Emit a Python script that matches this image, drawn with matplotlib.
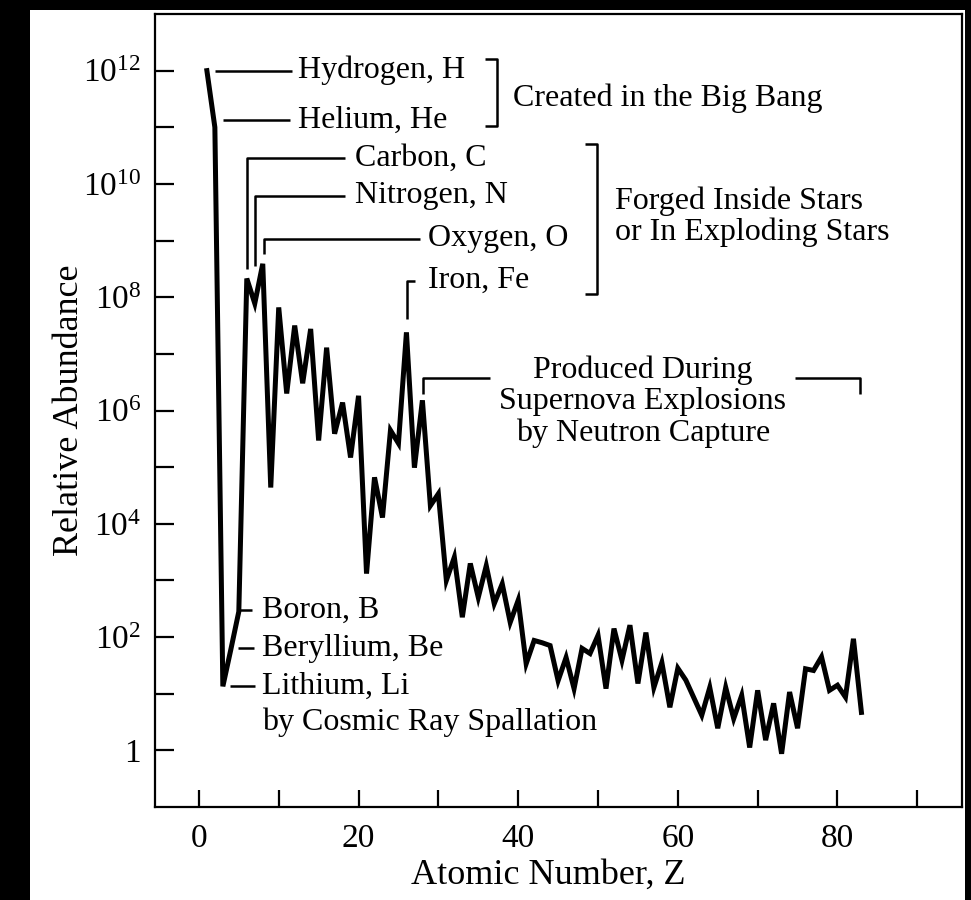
import numpy as np
import matplotlib
matplotlib.use('Agg')
import matplotlib.pyplot as plt
from matplotlib.patches import Rectangle

plt.rcParams['font.family'] = 'Liberation Serif'
plt.rcParams['mathtext.fontset'] = 'custom'
plt.rcParams['mathtext.rm'] = 'Liberation Serif'

# atomic number and log10 of relative abundance
atomic_number = list(range(1, 84))
log_abundance = [
    12.0, 11.0, 1.13, 1.78, 2.45, 8.33, 7.89, 8.59, 4.64, 7.82,
    6.30, 7.50, 6.48, 7.44, 5.47, 7.11, 5.59, 6.14, 5.17, 6.26,
    3.12, 4.82, 4.11, 5.65, 5.42, 7.38, 4.99, 6.18, 4.32, 4.53,
    3.00, 3.41, 2.35, 3.30, 2.70, 3.26, 2.59, 2.94, 2.26, 2.65,
    1.53, 1.94, 1.90, 1.85, 1.23, 1.64, 1.09, 1.80, 1.71, 2.03,
    1.09, 2.15, 1.59, 2.21, 1.18, 2.08, 1.11, 1.55, 0.76, 1.45,
    1.24, 0.93, 0.62, 1.11, 0.39, 1.11, 0.56, 0.97, 0.05, 1.06,
    0.18, 0.83, -0.06, 1.03, 0.39, 1.44, 1.41, 1.65, 1.06, 1.15,
    0.94, 1.97, 0.67,
]
abundance = [10 ** v for v in log_abundance]

x_ticks = [0, 10, 20, 30, 40, 50, 60, 70, 80, 90]
x_ticklabels = ['0', '', '20', '', '40', '', '60', '', '80', '']
y_ticks = [10 ** k for k in range(0, 13)]
y_ticklabels = ['1', '', r'$\mathregular{10^{2}}$', '', r'$\mathregular{10^{4}}$', '',
                r'$\mathregular{10^{6}}$', '', r'$\mathregular{10^{8}}$', '',
                r'$\mathregular{10^{10}}$', '', r'$\mathregular{10^{12}}$']

W, H = 971, 900
fig = plt.figure(figsize=(W / 100, H / 100), dpi=100)
fig.patch.set_facecolor('black')
# white page inside the black scan border
fig.patches.append(Rectangle((30 / W, 0), (965 - 30) / W, (H - 10) / H,
                             transform=fig.transFigure, facecolor='white',
                             edgecolor='none', zorder=-1))

ax = fig.add_axes([155 / W, 1 - 807 / H, (962 - 155) / W, (807 - 14) / H])
ax.set_facecolor('white')
ax.plot(atomic_number, abundance, color='black', lw=3.6, solid_joinstyle='miter')
ax.set_yscale('log')
ax.set_xlim(-5.5, 95.6)
ax.set_ylim(10 ** -1.0, 10 ** 13.0)

ax.set_xticks(x_ticks)
ax.set_xticklabels(x_ticklabels, fontsize=24)
ax.set_yticks(y_ticks)
ax.set_yticklabels(y_ticklabels, fontsize=24)
ax.yaxis.set_minor_locator(matplotlib.ticker.NullLocator())
ax.tick_params(axis='x', direction='in', length=12, width=1.6, pad=12)
ax.tick_params(axis='y', direction='in', length=14, width=1.6, pad=10)
for s in ax.spines.values():
    s.set_linewidth(1.6)

ax.set_xlabel('Atomic Number, Z', fontsize=26, labelpad=1)
ax.xaxis.set_label_coords(0.487, -0.065)
ax.set_ylabel('Relative Abundance', fontsize=26, labelpad=-2)


def L(v):
    return 10 ** v


lk = dict(color='black', lw=1.8, solid_capstyle='butt')
fs = 23

# Big Bang
ax.plot([2.0, 11.65], [L(12.0), L(12.0)], **lk)
ax.text(12.4, L(12.0), 'Hydrogen, H', fontsize=fs, va='center')
ax.plot([3.0, 11.4], [L(11.12), L(11.12)], **lk)
ax.text(12.4, L(11.12), 'Helium, He', fontsize=fs, va='center')
ax.plot([35.8, 37.3, 37.3, 35.8], [L(12.21), L(12.21), L(11.03), L(11.03)], **lk)
ax.text(39.3, L(11.52), 'Created in the Big Bang', fontsize=fs, va='center')

# stars
ax.plot([6.0, 6.0, 18.3], [L(8.5), L(10.45), L(10.45)], **lk)
ax.text(19.5, L(10.45), 'Carbon, C', fontsize=fs, va='center')
ax.plot([7.0, 7.0, 18.3], [L(8.55), L(9.79), L(9.79)], **lk)
ax.text(19.5, L(9.79), 'Nitrogen, N', fontsize=fs, va='center')
ax.plot([8.15, 8.15, 27.7], [L(8.77), L(9.03), L(9.03)], **lk)
ax.text(28.7, L(9.03), 'Oxygen, O', fontsize=fs, va='center')
ax.plot([26.07, 26.07, 27.07], [L(7.62), L(8.29), L(8.29)], **lk)
ax.text(28.7, L(8.29), 'Iron, Fe', fontsize=fs, va='center')
ax.plot([48.4, 49.9, 49.9, 48.4], [L(10.71), L(10.71), L(8.06), L(8.06)], **lk)
ax.text(52.1, L(9.42), 'Forged Inside Stars\nor In Exploding Stars', fontsize=fs,
        va='center', linespacing=1.05)

# supernova
ax.plot([28.07, 28.07, 36.5], [L(6.30), L(6.58), L(6.58)], **lk)
ax.plot([74.7, 82.8, 82.8], [L(6.58), L(6.58), L(6.30)], **lk)
ax.text(55.6, L(6.15), 'Produced During\nSupernova Explosions\nby Neutron Capture',
        fontsize=fs, va='center', ha='center', linespacing=1.1)

# cosmic rays
ax.plot([5.1, 6.6], [L(2.47), L(2.47)], **lk)
ax.text(7.9, L(2.47), 'Boron, B', fontsize=fs, va='center')
ax.plot([4.9, 6.9], [L(1.80), L(1.80)], **lk)
ax.text(7.9, L(1.80), 'Beryllium, Be', fontsize=fs, va='center')
ax.plot([3.9, 7.0], [L(1.13), L(1.13)], **lk)
ax.text(7.9, L(1.13), 'Lithium, Li', fontsize=fs, va='center')
ax.text(7.9, L(0.49), 'by Cosmic Ray Spallation', fontsize=fs, va='center')

fig.savefig('out.png', dpi=100, facecolor=fig.get_facecolor())
